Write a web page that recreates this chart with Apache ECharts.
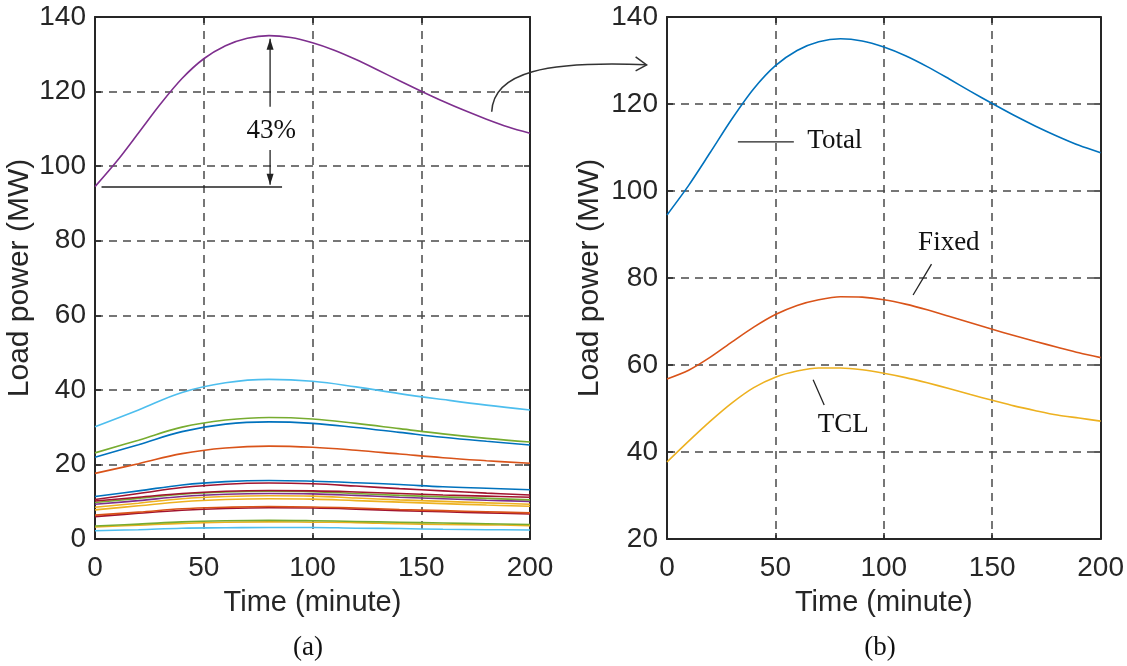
<!DOCTYPE html>
<html><head><meta charset="utf-8">
<script src="https://cdn.jsdelivr.net/npm/echarts@6/dist/echarts.min.js"></script>
<style>html,body{margin:0;padding:0;background:#fff;}#c{width:1127px;height:666px;}</style>
</head><body><div id="c"></div>
<script>
// ---- data ----
const t21 = [0,10,20,30,40,50,60,70,80,90,100,110,120,130,140,150,160,170,180,190,200];
const t11 = [0,20,40,60,80,100,120,140,160,180,200];
const xTicks = [0,50,100,150,200];
const yTicksA = [0,20,40,60,80,100,120,140];
const yTicksB = [20,40,60,80,100,120,140];

const total = [94.5,101.3,108.9,116.6,123.5,128.8,132.3,134.3,135.0,134.5,133.1,131.1,128.6,125.8,122.9,120.1,117.4,114.9,112.6,110.5,108.8];
const fixedLoad = [56.8,58.8,61.8,65.3,68.7,71.6,73.7,75.0,75.7,75.6,75.0,74.0,72.7,71.2,69.7,68.2,66.8,65.4,64.1,62.8,61.7];
const tclLoad = [37.7,42.5,47.1,51.3,54.8,57.2,58.6,59.3,59.3,58.9,58.1,57.1,55.9,54.6,53.2,51.9,50.6,49.5,48.5,47.8,47.1];

// individual loads in panel (a), sampled at t11
const loadLightBlue = [30.1,34.6,39.3,41.9,42.8,42.3,40.8,39.0,37.4,35.9,34.6];
const loadGreen = [23.1,26.5,30.0,31.9,32.6,32.2,31.0,29.6,28.2,27.0,26.0];
const loadBlue = [21.9,25.3,28.8,30.8,31.4,31.0,29.9,28.6,27.3,26.2,25.2];
const loadOrange = [17.6,20.2,22.9,24.4,24.9,24.6,23.8,22.8,21.8,21.0,20.3];
const loadBlue2 = [11.4,12.9,14.5,15.4,15.7,15.5,15.1,14.6,14.0,13.6,13.2];
const loadRed = [10.6,12.2,13.8,14.7,15.0,14.8,14.2,13.5,12.9,12.3,11.8];
const loadRed2 = [10.2,11.2,12.2,12.8,13.0,12.9,12.6,12.2,11.8,11.5,11.2];
const loadGreen2 = [9.8,10.9,12.0,12.6,12.8,12.7,12.2,11.7,11.3,10.9,10.5];
const loadPurple = [9.3,10.3,11.4,12.0,12.2,12.1,11.7,11.2,10.8,10.4,10.1];
const loadYellow = [8.5,9.6,10.8,11.4,11.6,11.5,11.0,10.5,10.1,9.7,9.3];
const loadYellow2 = [7.8,8.9,10.0,10.6,10.8,10.7,10.3,9.9,9.5,9.1,8.8];
const loadOrange2 = [6.4,7.2,8.1,8.5,8.7,8.6,8.3,7.9,7.6,7.3,7.0];
const loadRed3 = [6.0,6.9,7.7,8.2,8.4,8.3,8.0,7.6,7.3,7.0,6.7];
const loadGreen3 = [3.5,4.0,4.6,4.9,5.0,4.9,4.7,4.5,4.3,4.1,3.9];
const loadYellow3 = [3.2,3.7,4.2,4.5,4.6,4.5,4.4,4.1,3.9,3.8,3.6];
const loadLightBlue2 = [2.2,2.5,2.9,3.0,3.1,3.1,2.9,2.8,2.6,2.5,2.4];

// ---- styling ----
const C = {blue:'#0072BD', orange:'#D95319', yellow:'#EDB120', purple:'#7E2F8E', green:'#77AC30', lblue:'#4DBEEE', red:'#A2142F'};
const sans = "'Liberation Sans',Arial,Helvetica,sans-serif";
const serif = "'Liberation Serif','Times New Roman',serif";
const frame = '#262626';

function zip(xs, ys){ return xs.map((x,i)=>[x, ys[i]]); }

function xAx(grid, pos, labels){
  return {type:'value', gridIndex:grid, position:pos, min:0, max:200, interval:50,
    name: labels ? 'Time (minute)' : '', nameLocation:'middle', nameGap:49,
    nameTextStyle:{fontFamily:sans, fontSize:29, color:'#262626'},
    axisLine:{show:true, onZero:false, lineStyle:{color:frame, width:2}},
    axisTick:{show:true, inside:true, length:6, lineStyle:{color:frame, width:1.5}},
    axisLabel:{show:labels, fontFamily:sans, fontSize:28, color:'#262626', margin:15},
    splitLine:{show:labels, lineStyle:{color:'#4a4a4a', width:1.5, type:[8,6]}}};
}
function yAx(grid, pos, labels, min, max, gap){
  return {type:'value', gridIndex:grid, position:pos, min:min, max:max, interval:20,
    name: labels ? 'Load power (MW)' : '', nameLocation:'middle', nameGap:gap,
    nameTextStyle:{fontFamily:sans, fontSize:30, color:'#262626'},
    axisLine:{show:true, onZero:false, lineStyle:{color:frame, width:2}},
    axisTick:{show:true, inside:true, length:6, lineStyle:{color:frame, width:1.5}},
    axisLabel:{show:labels, fontFamily:sans, fontSize:28, color:'#262626', margin:9},
    splitLine:{show:labels, lineStyle:{color:'#4a4a4a', width:1.5, type:[8,6]}}};
}
function ser(name, xs, ys, color, g, smooth){
  return {name:name, type:'line', xAxisIndex:g*2, yAxisIndex:g*2, data:zip(xs, ys),
    showSymbol:false, smooth:smooth, lineStyle:{color:color, width:1.6}, itemStyle:{color:color},
    silent:true, animation:false, z:3};
}

const chart = echarts.init(document.getElementById('c'), null, {renderer:'canvas'});
chart.setOption({
  animation:false,
  backgroundColor:'#fff',
  grid:[
    {left:95, right:597, top:17, bottom:127},
    {left:667, right:26, top:17, bottom:127}
  ],
  xAxis:[xAx(0,'bottom',true), xAx(0,'top',false), xAx(1,'bottom',true), xAx(1,'top',false)],
  yAxis:[yAx(0,'left',true,0,140,60), yAx(0,'right',false,0,140,60), yAx(1,'left',true,20,140,62), yAx(1,'right',false,20,140,62)],
  series:[
    ser('l16', t11, loadLightBlue2, C.lblue, 0, 0.4),
    ser('l15', t11, loadYellow3, C.yellow, 0, 0.4),
    ser('l14', t11, loadGreen3, C.green, 0, 0.4),
    ser('l13', t11, loadRed3, C.red, 0, 0.4),
    ser('l12', t11, loadOrange2, C.orange, 0, 0.4),
    ser('l11', t11, loadYellow2, C.yellow, 0, 0.4),
    ser('l10', t11, loadYellow, C.yellow, 0, 0.4),
    ser('l9', t11, loadPurple, C.purple, 0, 0.4),
    ser('l8', t11, loadGreen2, C.green, 0, 0.4),
    ser('l7', t11, loadRed2, C.red, 0, 0.4),
    ser('l6', t11, loadRed, C.red, 0, 0.4),
    ser('l5', t11, loadBlue2, C.blue, 0, 0.4),
    ser('l4', t11, loadOrange, C.orange, 0, 0.4),
    ser('l3', t11, loadBlue, C.blue, 0, 0.4),
    ser('l2', t11, loadGreen, C.green, 0, 0.4),
    ser('l1', t11, loadLightBlue, C.lblue, 0, 0.4),
    ser('Total (a)', t21, total, C.purple, 0, 0.3),
    ser('Total', t21, total, C.blue, 1, 0.3),
    ser('Fixed', t21, fixedLoad, C.orange, 1, 0.3),
    ser('TCL', t21, tclLoad, C.yellow, 1, 0.3)
  ]
});

// ---- annotations positioned from data coordinates ----
const pa = (x,y)=>chart.convertToPixel({gridIndex:0}, [x,y]);
const pb = (x,y)=>chart.convertToPixel({gridIndex:1}, [x,y]);
const ink = '#222';
const g = [];
function line(p,q,w){ g.push({type:'line', shape:{x1:p[0],y1:p[1],x2:q[0],y2:q[1]}, style:{stroke:ink, lineWidth:w||1.3}, z:10}); }
function text(s,p,size){ g.push({type:'text', style:{text:s, x:p[0], y:p[1], textAlign:'center', textVerticalAlign:'middle', font:(size||26)+'px '+serif, fill:'#111'}, z:10}); }
function arrowV(from,to){
  line(from,to,1.3);
  const dir = to[1] < from[1] ? 1 : -1;
  g.push({type:'polygon', shape:{points:[[to[0],to[1]],[to[0]-3.5,to[1]+dir*11],[to[0]+3.5,to[1]+dir*11]]}, style:{fill:ink}, z:10});
}
// panel (a)
line(pa(3,94.4), pa(86,94.4), 1.3);
arrowV(pa(80.5,115.9), pa(80.5,134.2));
arrowV(pa(80.5,104.3), pa(80.5,95.0));
text('43%', pa(81,109.5), 27);
// curved arrow from (a) to (b)
const s0 = pa(182.4,114.6), e0 = pb(-9.4,129.0);
g.push({type:'bezierCurve', shape:{x1:s0[0],y1:s0[1],x2:e0[0],y2:e0[1],cpx1:s0[0]+2,cpy1:s0[1]-40,cpx2:s0[0]+55,cpy2:e0[1]-4}, style:{stroke:'#333', lineWidth:1.5, fill:null}, z:10});
g.push({type:'polyline', shape:{points:[[e0[0]-11,e0[1]-8],[e0[0],e0[1]],[e0[0]-11,e0[1]+6]]}, style:{stroke:'#333', lineWidth:1.5, fill:null}, z:10});
// panel (b)
line(pb(32.7,111.3), pb(58.5,111.3), 1.3);
text('Total', pb(77.4,111.6), 27);
text('Fixed', pb(130,88), 27);
line(pb(122,83.2), pb(113.5,76.1), 1.3);
text('TCL', pb(81.3,46.2), 27);
line(pb(67.4,56.6), pb(72.5,50.8), 1.3);
// captions
g.push({type:'text', style:{text:'(a)', x:308, y:648, textAlign:'center', textVerticalAlign:'middle', font:'27px '+serif, fill:'#111'}});
g.push({type:'text', style:{text:'(b)', x:880, y:648, textAlign:'center', textVerticalAlign:'middle', font:'27px '+serif, fill:'#111'}});
chart.setOption({graphic:g});
</script></body></html>
